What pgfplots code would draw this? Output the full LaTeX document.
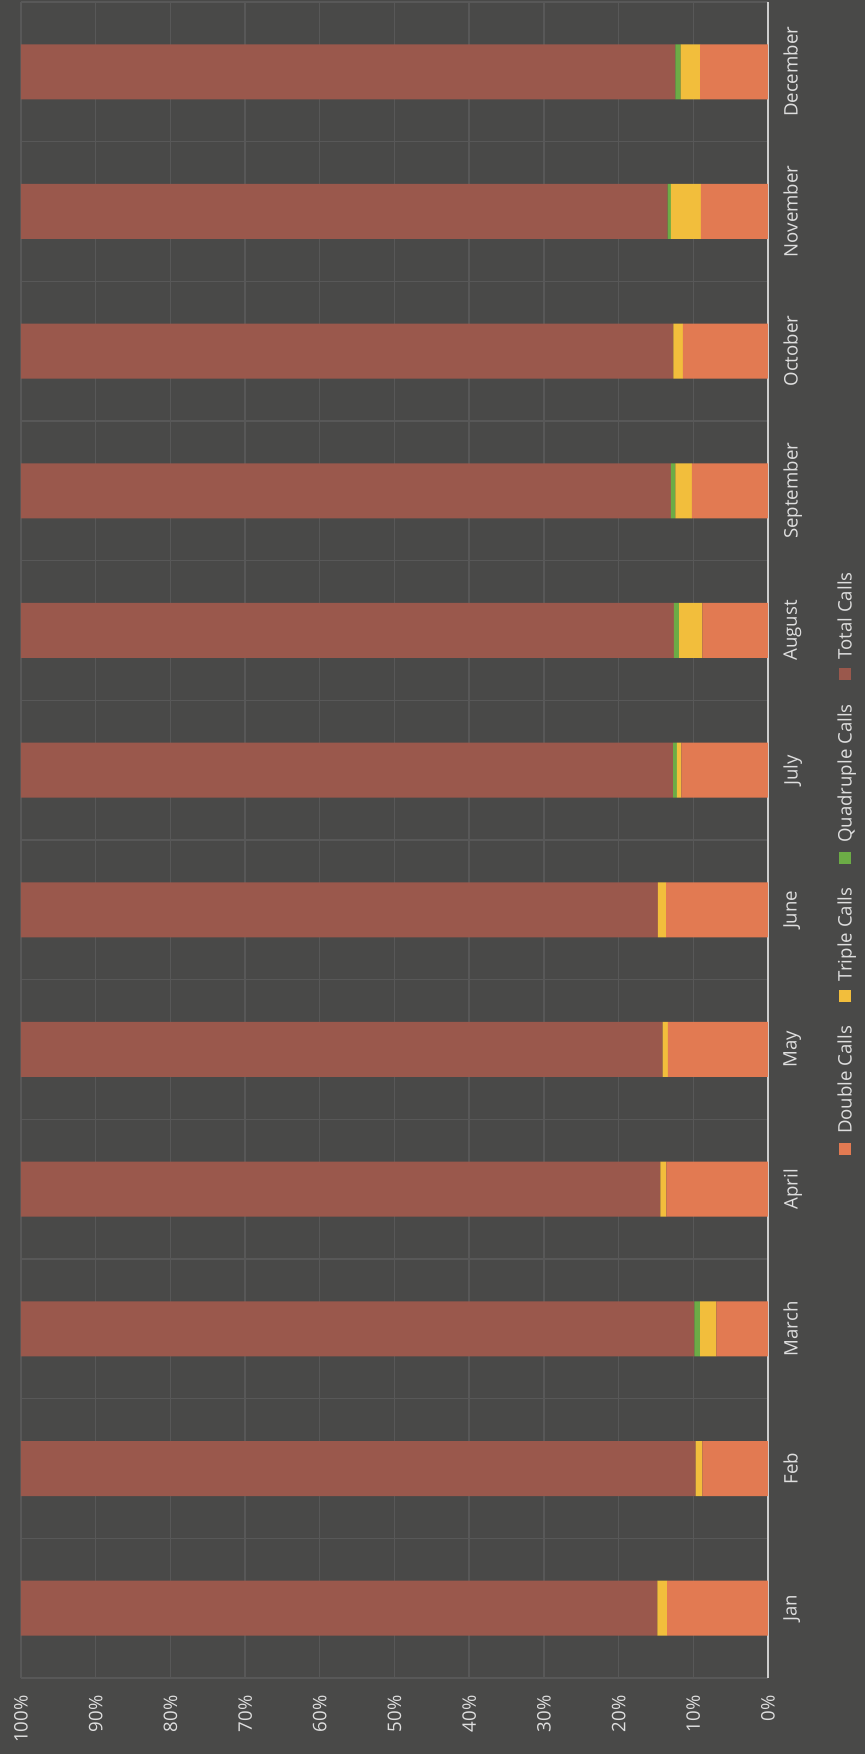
\documentclass[border=0pt]{standalone}
\usepackage{fontspec}
\setmainfont{Open Sans}
\usepackage{pgfplots}
\usepackage{pgfplotstable}
\pgfplotsset{compat=1.18}

\definecolor{bgc}{RGB}{73,73,72}
\definecolor{gridc}{RGB}{88,88,88}
\definecolor{axisc}{RGB}{205,205,205}
\definecolor{txtc}{RGB}{222,222,222}
\definecolor{doublec}{RGB}{226,122,82}
\definecolor{triplec}{RGB}{242,190,60}
\definecolor{quadc}{RGB}{108,172,70}
\definecolor{totalc}{RGB}{154,88,76}

% share of calls per month, in percent (0 = Jan ... 11 = December)
\pgfplotstableread{
idx double triple quad total
0  13.5  1.3  0.0  85.2
1   8.8  0.9  0.0  90.3
2   6.9  2.2  0.75 90.15
3  13.6  0.8  0.0  85.6
4  13.4  0.7  0.0  85.9
5  13.65 1.1  0.0  85.25
6  11.6  0.6  0.5  87.3
7   8.8  3.1  0.7  87.4
8  10.2  2.2  0.6  87.0
9  11.4  1.25 0.0  87.35
10  9.0  4.0  0.45 86.55
11  9.1  2.6  0.7  87.6
}\calls

% legend key: a small square in the series colour, set in the text line
\newcommand{\key}[1]{\textcolor{#1}{\rule[0.1pt]{3.4pt}{3.4pt}}\hspace{2.5pt}}

\begin{document}
\begin{tikzpicture}
\fill[bgc] (-2.1mm,-7.6mm) rectangle (84.4mm,167.8mm);
\begin{axis}[
  scale only axis,
  width=74.7mm, height=167.6mm,
  at={(0,0)}, anchor=south west,
  xbar stacked, bar width=5.5mm,
  x dir=reverse,
  xmin=0, xmax=100,
  ymin=-0.5, ymax=11.5,
  ytick={0,...,11},
  yticklabels={Jan,Feb,March,April,May,June,July,August,September,October,November,December},
  yticklabel pos=right,
  xtick={0,10,...,100},
  xticklabels={0\%,10\%,20\%,30\%,40\%,50\%,60\%,70\%,80\%,90\%,100\%},
  axis line style={draw=none},
  major tick length=0pt, minor tick length=0pt,
  tick style={draw=none},
  xmajorgrids,
  grid style={gridc, line width=0.4pt},
  minor ytick={-0.5,0.5,...,11.5},
  yminorgrids,
  minor grid style={gridc, line width=0.4pt},
  extra x ticks={0},
  extra x tick labels={},
  extra x tick style={grid style={axisc, line width=0.7pt}},
  xticklabel style={font=\fontsize{5.3}{6.4}\selectfont, text=txtc, yshift=-0.5mm, rotate=90, anchor=east},
  yticklabel style={font=\fontsize{5.3}{6.4}\selectfont, text=txtc, xshift=0.3mm, rotate=90, anchor=north},
  legend columns=1,
  reverse legend,
  legend style={at={(1.106,0.486)}, anchor=center,
    draw=none, fill=none, text=txtc, font=\fontsize{5.3}{6.4}\selectfont,
    nodes={rotate=90, inner sep=0pt, anchor=center},
    row sep=2.4mm, column sep=0pt},
  legend image code/.code={},
]
\addplot[fill=doublec, draw=none] table[x=double, y=idx] {\calls};
\addplot[fill=triplec, draw=none] table[x=triple, y=idx] {\calls};
\addplot[fill=quadc, draw=none] table[x=quad, y=idx] {\calls};
\addplot[fill=totalc, draw=none] table[x=total, y=idx] {\calls};
\legend{\key{doublec}Double Calls, \key{triplec}Triple Calls, \key{quadc}Quadruple Calls, \key{totalc}Total Calls}
\end{axis}
\pgfresetboundingbox
\useasboundingbox (-2.1mm,-7.6mm) rectangle (84.4mm,167.8mm);
\end{tikzpicture}
\end{document}
